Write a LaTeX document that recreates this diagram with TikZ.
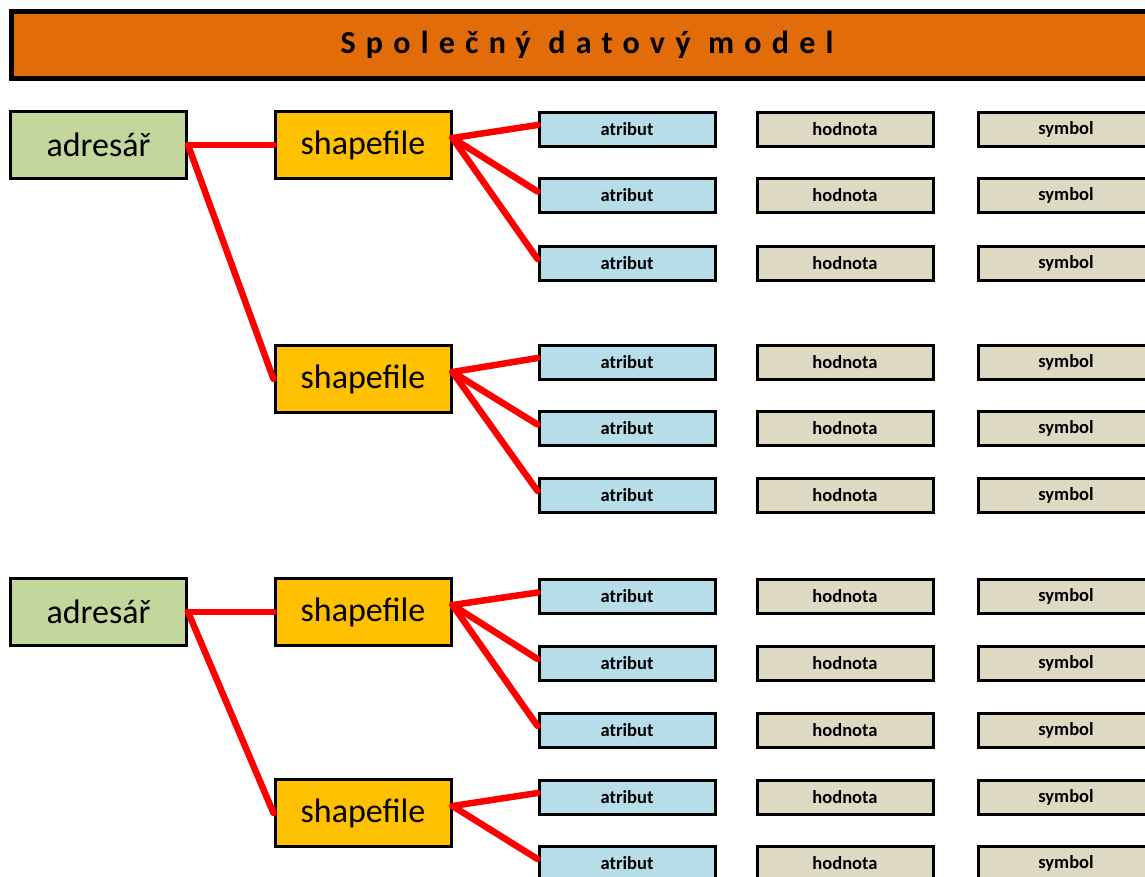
\documentclass[tikz,border=0pt]{standalone}
\usepackage{fontspec}
\setmainfont{Carlito}
\newfontfamily\titlefont[LetterSpace=32]{Carlito}
\usetikzlibrary{positioning}
\definecolor{titleorange}{HTML}{E36C0A}
\definecolor{dirgreen}{HTML}{C3D69B}
\definecolor{shpgold}{HTML}{FFC000}
\definecolor{attrblue}{HTML}{B7DDE8}
\definecolor{valtan}{HTML}{DDD9C3}

\begin{document}
\begin{tikzpicture}[x=1pt,y=-1pt]
\tikzstyle{bigbox}=[draw, line width=3, minimum width=176, minimum height=67, inner sep=0, font=\fontsize{34}{37}\selectfont]
\tikzstyle{smallbox}=[draw, line width=3, minimum width=176, minimum height=34, inner sep=0, font=\bfseries\fontsize{18.5}{21}\selectfont]
\tikzstyle{dir}=[bigbox, fill=dirgreen]
\tikzstyle{shp}=[bigbox, fill=shpgold]
\tikzstyle{attr}=[smallbox, fill=attrblue]
\tikzstyle{val}=[smallbox, fill=valtan]
\tikzstyle{sym}=[smallbox, fill=valtan]
\tikzstyle{link}=[red, line width=6.5, line cap=round]

\clip (0,0) rectangle (1145,876);
\useasboundingbox (0,0) rectangle (1145,876);

\node[draw, line width=4.5, fill=titleorange, minimum width=1151, minimum height=67, inner sep=0,
  font=\titlefont\bfseries\fontsize{32}{36}\selectfont] (title) at (587,45) {Společný datový model};

\node[dir] (D1) at (98.5,145) {adresář};
\node[dir] (D2) at (98.5,612) {adresář};
\node[shp] (S1) at (363,145) {shapefile};
\node[shp] (S2) at (363,379) {shapefile};
\node[shp] (S3) at (363,612) {shapefile};
\node[shp] (S4) at (363,813) {shapefile};

\foreach \n/\y in {1/129,2/195.5,3/263,4/362,5/428.5,6/495,7/596.5,8/663,9/730,10/797,11/863}{
  \node[attr] (A\n) at (627,\y) {atribut};
  \node[val] (H\n) at (845,\y) {hodnota};
  \node[sym] (Y\n) at (1066,\y) {symbol};
}

\foreach \i/\j in {D1/S1,D1/S2,D2/S3,D2/S4}{\draw[link] (\i.east) -- (\j.west);}
\foreach \i/\j in {S1/A1,S1/A2,S1/A3,S2/A4,S2/A5,S2/A6,S3/A7,S3/A8,S3/A9,S4/A10,S4/A11}{\draw[link] ([yshift=7]\i.east) -- ([yshift=4]\j.west);}
\end{tikzpicture}
\end{document}
